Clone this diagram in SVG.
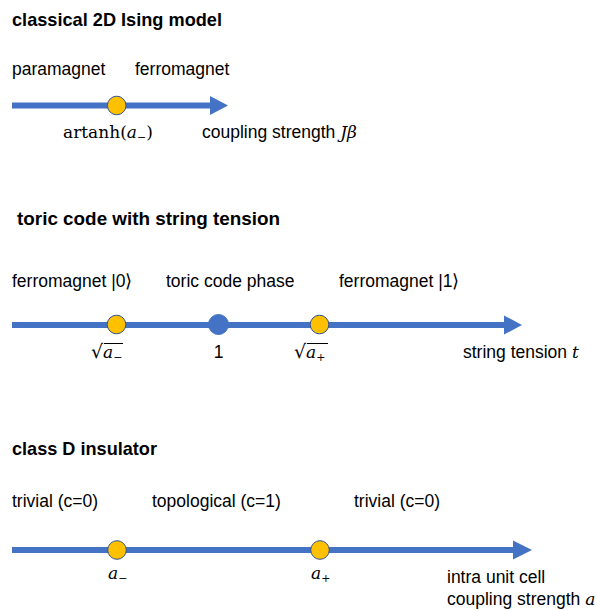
<svg xmlns="http://www.w3.org/2000/svg" width="596" height="610" viewBox="0 0 596 610">
  <style>
    .title { font-family: "Liberation Sans", Arial, sans-serif; font-size: 18.5px; font-weight: bold; fill: #000; }
    .lbl { font-family: "Liberation Sans", Arial, sans-serif; font-size: 17.5px; fill: #000; }
    .math { font-family: "DejaVu Serif", "Liberation Serif", serif; font-size: 17px; fill: #000; }
    .it { font-style: italic; }
    .axis { stroke: #4472C4; stroke-width: 6; fill: none; }
    .head { fill: #4472C4; }
    .pt { fill: #FFC000; stroke: #2F528F; stroke-width: 1; }
    .ptb { fill: #4472C4; stroke: #4472C4; stroke-width: 1; }
    .vinc { stroke: #000; stroke-width: 1; }
  </style>

  <!-- Section 1 -->
  <g id="section1-title"><text class="title" x="12" y="26" textLength="210" lengthAdjust="spacingAndGlyphs">classical 2D Ising model</text></g>
  <g id="phase-paramagnet"><text class="lbl" x="12" y="75">paramagnet</text></g>
  <g id="phase-ferromagnet"><text class="lbl" x="135" y="75">ferromagnet</text></g>

  <!-- Section 2 -->
  <g id="section2-title"><text class="title" x="17" y="225" textLength="263" lengthAdjust="spacingAndGlyphs">toric code with string tension</text></g>
  <g id="phase-ferro0"><text class="lbl" x="12" y="287">ferromagnet |0⟩</text></g>
  <g id="phase-toric"><text class="lbl" x="166" y="287">toric code phase</text></g>
  <g id="phase-ferro1"><text class="lbl" x="339" y="287">ferromagnet |1⟩</text></g>

  <!-- Section 3 -->
  <g id="section3-title"><text class="title" x="12" y="455" textLength="145" lengthAdjust="spacingAndGlyphs">class D insulator</text></g>
  <g id="phase-trivial1"><text class="lbl" x="12" y="507">trivial (c=0)</text></g>
  <g id="phase-topo"><text class="lbl" x="152" y="507">topological (c=1)</text></g>
  <g id="phase-trivial2"><text class="lbl" x="354" y="507">trivial (c=0)</text></g>

  <!-- Connectors (axes) -->
  <g id="connectors">
    <line class="axis" x1="12" y1="105.5" x2="212" y2="105.5"/>
    <polygon class="head" points="210,96 228,105.5 210,115"/>
    <line class="axis" x1="12" y1="325" x2="506" y2="325"/>
    <polygon class="head" points="504,315.5 522,325 504,334.5"/>
    <line class="axis" x1="12" y1="550" x2="515" y2="550"/>
    <polygon class="head" points="513,540.5 532,550 513,559.5"/>
  </g>

  <!-- Axis labels -->
  <g id="axis1-label"><text class="lbl" x="202" y="138">coupling strength <tspan class="math it" font-size="17">Jβ</tspan></text></g>
  <g id="axis2-label"><text class="lbl" x="463" y="358">string tension <tspan class="math it" font-size="17">t</tspan></text></g>
  <g id="axis3-label">
    <text class="lbl" x="447" y="583">intra unit cell</text>
    <text class="lbl" x="447" y="605">coupling strength <tspan class="math it" font-size="17">a</tspan></text>
  </g>

  <!-- Nodes: critical points -->
  <g id="pt1-aminus">
    <circle class="pt" cx="116.7" cy="105.5" r="9.3"/>
    <text class="math" x="63" y="138">artanh(<tspan class="it">a</tspan><tspan font-size="11" dy="3">−</tspan><tspan dy="-3">)</tspan></text>
  </g>

  <g id="pt2-sqrt-aminus">
    <circle class="pt" cx="116.5" cy="324.5" r="9.3"/>
    <text class="math" x="91" y="358"><tspan font-size="19">√</tspan><tspan class="it">a</tspan><tspan font-size="11" dy="3">−</tspan></text>
    <line class="vinc" x1="104" y1="343.5" x2="123" y2="343.5"/>
  </g>
  <g id="pt2-one">
    <circle class="ptb" cx="218.5" cy="324.5" r="10"/>
    <text class="lbl" x="218.5" y="358" text-anchor="middle">1</text>
  </g>
  <g id="pt2-sqrt-aplus">
    <circle class="pt" cx="319.5" cy="324.5" r="9.3"/>
    <text class="math" x="294" y="358"><tspan font-size="19">√</tspan><tspan class="it">a</tspan><tspan font-size="11" dy="3">+</tspan></text>
    <line class="vinc" x1="307" y1="343.5" x2="328" y2="343.5"/>
  </g>

  <g id="pt3-aminus">
    <circle class="pt" cx="117" cy="550" r="9.3"/>
    <text class="math" x="108" y="579"><tspan class="it">a</tspan><tspan font-size="11" dy="3">−</tspan></text>
  </g>
  <g id="pt3-aplus">
    <circle class="pt" cx="320" cy="550" r="9.3"/>
    <text class="math" x="311" y="579"><tspan class="it">a</tspan><tspan font-size="11" dy="3">+</tspan></text>
  </g>
</svg>
